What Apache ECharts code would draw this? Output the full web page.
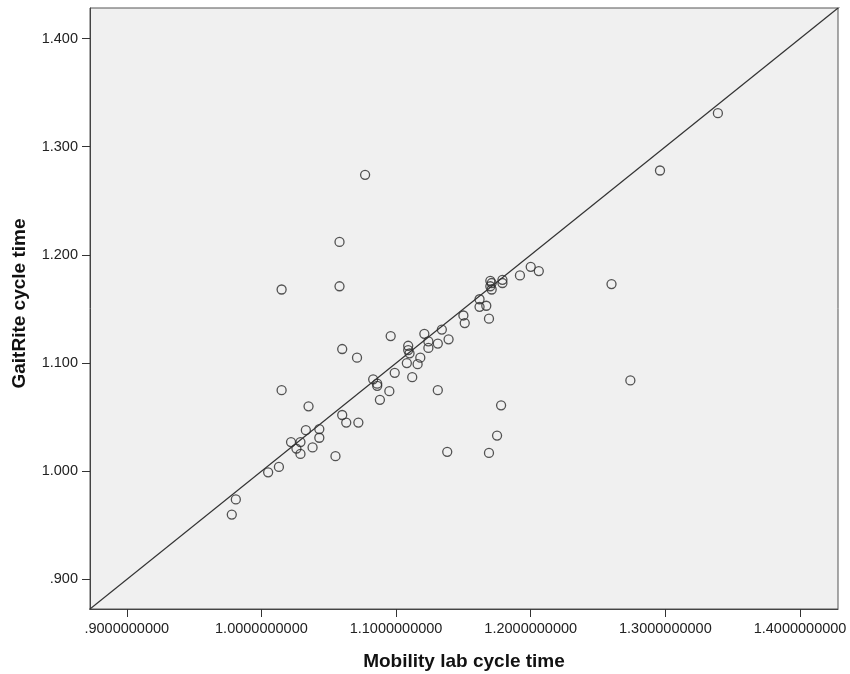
<!DOCTYPE html>
<html>
<head>
<meta charset="utf-8">
<script src="https://cdn.jsdelivr.net/npm/echarts@6/dist/echarts.min.js"></script>
<style>
html, body { margin: 0; padding: 0; background: #fff; }
#container { width: 850px; height: 674px; }
</style>
</head>
<body>
<div id="container"></div>
<script>
// Mobility lab cycle time (x) vs GaitRite cycle time (y)
let mobilityLab = [
    0.978, 0.981, 1.005, 1.013, 1.015, 1.015, 1.022, 1.026, 1.029, 1.029,
    1.033, 1.035, 1.038, 1.043, 1.043, 1.055, 1.058, 1.058, 1.060, 1.060,
    1.063, 1.071, 1.072, 1.077, 1.083, 1.086, 1.086, 1.088, 1.095, 1.096,
    1.099, 1.108, 1.109, 1.109, 1.110, 1.112, 1.116, 1.118, 1.121, 1.124,
    1.124, 1.131, 1.131, 1.134, 1.138, 1.139, 1.150, 1.151, 1.162, 1.162,
    1.167, 1.169, 1.169, 1.170, 1.171, 1.170, 1.171, 1.175, 1.178, 1.179,
    1.179, 1.192, 1.200, 1.206, 1.260, 1.274, 1.296, 1.339
];
let gaitRite = [
    0.960, 0.974, 0.999, 1.004, 1.075, 1.168, 1.027, 1.021, 1.027, 1.016,
    1.038, 1.060, 1.022, 1.039, 1.031, 1.014, 1.212, 1.171, 1.052, 1.113,
    1.045, 1.105, 1.045, 1.274, 1.085, 1.079, 1.081, 1.066, 1.074, 1.125,
    1.091, 1.100, 1.116, 1.112, 1.109, 1.087, 1.099, 1.105, 1.127, 1.120,
    1.114, 1.118, 1.075, 1.131, 1.018, 1.122, 1.144, 1.137, 1.159, 1.152,
    1.153, 1.141, 1.017, 1.176, 1.174, 1.171, 1.168, 1.033, 1.061, 1.177,
    1.174, 1.181, 1.189, 1.185, 1.173, 1.084, 1.278, 1.331
];
let xTicks = [0.9, 1.0, 1.1, 1.2, 1.3, 1.4];
let yTicks = [0.9, 1.0, 1.1, 1.2, 1.3, 1.4];
let identityLine = [0.8, 1.5];

function spssNum(v, digits) {
    let s = v.toFixed(digits);
    return s.startsWith('0') ? s.slice(1) : s;
}

let points = mobilityLab.map((x, i) => [x, gaitRite[i]]);

let dom = document.getElementById("container");
let myChart = echarts.init(dom);
let option = {
    animation: false,
    textStyle: { fontFamily: 'Liberation Sans, Arial, sans-serif' },
    grid: {
        left: 90,
        top: 8,
        right: 12,
        bottom: 65,
        outerBoundsMode: 'none',
        show: true,
        backgroundColor: '#f0f0f0',
        borderColor: '#555',
        borderWidth: 1
    },
    xAxis: {
        type: 'value',
        min: 0.8727,
        max: 1.4282,
        name: 'Mobility lab cycle time',
        nameLocation: 'middle',
        nameGap: 43,
        nameTextStyle: { fontSize: 19, fontWeight: 'bold', color: '#111' },
        splitLine: { show: false },
        axisLine: { lineStyle: { color: '#444' } },
        axisTick: { length: 8, customValues: xTicks, lineStyle: { color: '#333' } },
        axisLabel: {
            customValues: xTicks,
            color: '#222',
            fontSize: 14.5,
            margin: 12,
            formatter: v => spssNum(v, 10)
        }
    },
    yAxis: {
        type: 'value',
        min: 0.8727,
        max: 1.4282,
        name: 'GaitRite cycle time',
        nameLocation: 'middle',
        nameGap: 61,
        nameTextStyle: { fontSize: 19, fontWeight: 'bold', color: '#111', padding: [0, 0, 0, 10] },
        splitLine: { show: false },
        axisLine: { lineStyle: { color: '#444' } },
        axisTick: { length: 8, customValues: yTicks, lineStyle: { color: '#333' } },
        axisLabel: {
            customValues: yTicks,
            color: '#222',
            fontSize: 14.5,
            margin: 12,
            formatter: v => spssNum(v, 3)
        }
    },
    series: [
        {
            type: 'line',
            data: [[identityLine[0], identityLine[0]], [identityLine[1], identityLine[1]]],
            symbol: 'none',
            clip: true,
            lineStyle: { color: '#333', width: 1.2 },
            silent: true
        },
        {
            type: 'scatter',
            data: points,
            symbol: 'circle',
            symbolSize: 9,
            itemStyle: { color: 'rgba(0,0,0,0)', borderColor: '#2a2a2a', borderWidth: 1.3 }
        }
    ]
};
myChart.setOption(option, true);
</script>
</body>
</html>
